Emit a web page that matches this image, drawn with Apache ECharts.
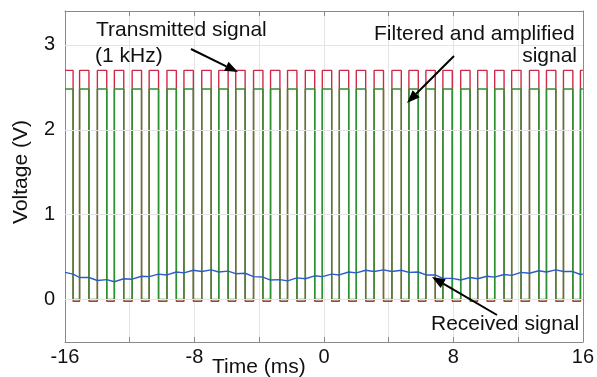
<!DOCTYPE html>
<html>
<head>
<meta charset="utf-8">
<script src="https://cdn.jsdelivr.net/npm/echarts@6/dist/echarts.min.js"></script>
<style>
  html, body { margin: 0; padding: 0; background: #fff; }
  #chart { width: 597px; height: 377px; }
</style>
</head>
<body>
<div id="chart"></div>
<script>
// edge times of the square waves (ms)
const fallTimes = [-15.5, -14.52, -13.42, -12.37, -11.27, -10.22, -9.12, -8.07, -6.97, -5.92,
  -4.87, -3.77, -2.72, -1.67, -0.57, 0.48, 1.53, 2.58, 3.68, 4.78,
  5.83, 6.88, 7.93, 9.03, 10.08, 11.13, 12.18, 13.28, 14.33, 15.38];
const riseTimes = [-15.1, -14.0, -12.95, -11.85, -10.8, -9.7, -8.65, -7.55, -6.5, -5.45,
  -4.35, -3.3, -2.25, -1.15, -0.1, 0.95, 2.0, 3.1, 4.2, 5.25,
  6.3, 7.35, 8.45, 9.5, 10.55, 11.6, 12.7, 13.75, 14.8, 15.85];

// signal levels (V)
const txLevels = [2.70, -0.02];    // transmitted: high, low
const filtLevels = [2.48, 0.0];    // filtered and amplified: high, low

// received signal, sampled at each edge (V)
const rxAtFall = [0.30, 0.26, 0.235, 0.245, 0.275, 0.30, 0.325, 0.345, 0.35, 0.335,
  0.31, 0.265, 0.235, 0.255, 0.28, 0.30, 0.325, 0.345, 0.35, 0.345,
  0.325, 0.29, 0.25, 0.26, 0.275, 0.295, 0.32, 0.34, 0.35, 0.33];
const rxAtRise = [0.26, 0.225, 0.21, 0.24, 0.27, 0.29, 0.315, 0.33, 0.325, 0.305,
  0.27, 0.23, 0.22, 0.245, 0.27, 0.29, 0.315, 0.33, 0.33, 0.32,
  0.29, 0.25, 0.23, 0.245, 0.265, 0.285, 0.31, 0.325, 0.33, 0.295];
const rxEnds = [0.32, 0.30];

const xRange = [-16, 16];
const xTickLabels = [-16, -8, 0, 8, 16];
const yTickLabels = [0, 1, 2, 3];

const FONT = '"Liberation Sans", Arial, sans-serif';

function squareWave(levels) {
  const [hi, lo] = levels;
  const pts = [[xRange[0], hi]];
  for (let i = 0; i < fallTimes.length; i++) {
    pts.push([fallTimes[i], hi], [fallTimes[i], lo], [riseTimes[i], lo], [riseTimes[i], hi]);
  }
  pts.push([xRange[1], hi]);
  return pts;
}

const rxData = [[xRange[0], rxEnds[0]]];
for (let i = 0; i < fallTimes.length; i++) {
  rxData.push([fallTimes[i], rxAtFall[i]], [riseTimes[i], rxAtRise[i]]);
}
rxData.push([xRange[1], rxEnds[1]]);

function arrow(x1, y1, x2, y2) {
  const a = Math.atan2(y2 - y1, x2 - x1);
  const L = 13, W = 5;
  const bx = x2 - L * Math.cos(a), by = y2 - L * Math.sin(a);
  const px = -Math.sin(a) * W, py = Math.cos(a) * W;
  return [
    { type: 'line', shape: { x1: x1, y1: y1, x2: bx, y2: by }, style: { stroke: '#000', lineWidth: 2 }, z: 100 },
    { type: 'polygon', shape: { points: [[x2, y2], [bx + px, by + py], [bx - px, by - py]] }, style: { fill: '#000' }, z: 100 }
  ];
}

function label(text, x, y, align) {
  return {
    type: 'text', x: x, y: y, z: 100,
    style: { text: text, font: '21px ' + FONT, fill: '#111', textAlign: align || 'left', textVerticalAlign: 'top' }
  };
}

const axisLineStyle = { color: '#8a8a8a', width: 1 };
const tickStyle = { show: true, inside: true, length: 5, lineStyle: { color: '#8a8a8a' } };

const chart = echarts.init(document.getElementById('chart'));
chart.setOption({
  animation: false,
  backgroundColor: '#fff',
  grid: { left: 65, right: 2, top: 11, bottom: 35 },
  xAxis: [
    {
      type: 'value', min: xRange[0], max: xRange[1], interval: 4,
      axisLine: { onZero: false, lineStyle: axisLineStyle },
      axisTick: tickStyle,
      axisLabel: { customValues: xTickLabels, margin: 5, color: '#111', fontSize: 20, fontFamily: FONT },
      splitLine: { show: true, lineStyle: { color: '#e4e4e4', width: 1 } }
    },
    {
      type: 'value', position: 'top', min: xRange[0], max: xRange[1], interval: 4,
      axisLine: { onZero: false, lineStyle: axisLineStyle },
      axisTick: tickStyle,
      axisLabel: { show: false },
      splitLine: { show: false }
    }
  ],
  yAxis: [
    {
      type: 'value', min: -0.5, max: 3.4,
      axisLine: { show: true, onZero: false, lineStyle: axisLineStyle },
      axisTick: Object.assign({ customValues: yTickLabels }, tickStyle),
      axisLabel: { customValues: yTickLabels, margin: 10, color: '#111', fontSize: 20, fontFamily: FONT },
      splitLine: { show: false }
    },
    {
      type: 'value', position: 'right', min: -0.5, max: 3.4,
      axisLine: { show: true, onZero: false, lineStyle: axisLineStyle },
      axisTick: Object.assign({ customValues: yTickLabels }, tickStyle),
      axisLabel: { show: false },
      splitLine: { show: false }
    }
  ],
  series: [
    {
      name: 'grid', type: 'line', data: [], z: 1, silent: true,
      markLine: {
        silent: true, symbol: 'none', animation: false,
        label: { show: false },
        lineStyle: { color: '#e4e4e4', width: 1, type: 'solid' },
        data: yTickLabels.map(v => ({ yAxis: v }))
      }
    },
    {
      name: 'Transmitted signal', type: 'line', data: squareWave(txLevels),
      showSymbol: false, z: 3,
      lineStyle: { color: '#cc2a48', width: 1.4 }
    },
    {
      name: 'Filtered and amplified signal', type: 'line', data: squareWave(filtLevels),
      showSymbol: false, z: 4,
      lineStyle: { color: '#2e9130', width: 1.5 }
    },
    {
      name: 'Received signal', type: 'line', data: rxData,
      showSymbol: false, z: 5,
      lineStyle: { color: '#2b5cc8', width: 1.4 }
    }
  ],
  graphic: [
    label('Transmitted signal', 96, 20),
    label('(1 kHz)', 95, 46),
    ...arrow(191, 49, 238, 72),
    label('Filtered and amplified', 374, 24),
    label('signal', 577, 46, 'right'),
    ...arrow(454, 56, 407, 103),
    label('Received signal', 431, 314),
    ...arrow(497, 315, 432, 277),
    label('Time (ms)', 212, 357),
    {
      type: 'text', x: 21, y: 172, rotation: Math.PI / 2, z: 100,
      style: { text: 'Voltage (V)', font: '21px ' + FONT, fill: '#111', textAlign: 'center', textVerticalAlign: 'middle' }
    }
  ]
});
</script>
</body>
</html>
